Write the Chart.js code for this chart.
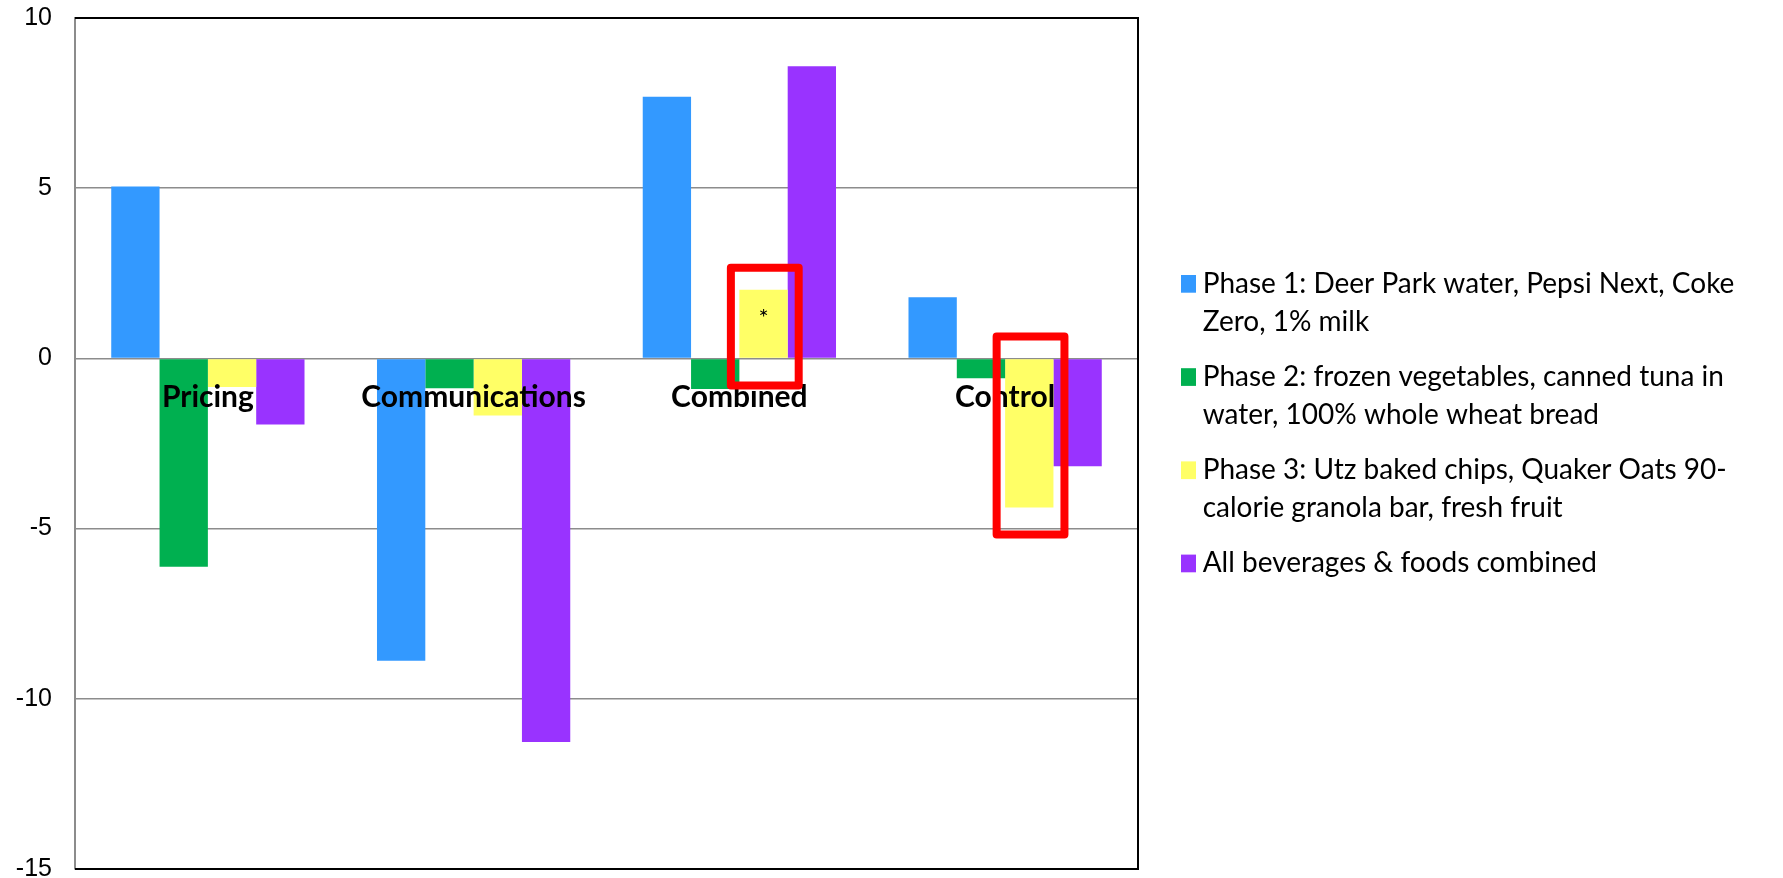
<!DOCTYPE html>
<html>
<head>
<meta charset="utf-8">
<script src="https://cdn.jsdelivr.net/npm/chart.js@4.4.1/dist/chart.umd.min.js"></script>
<style>
  html, body { margin: 0; padding: 0; background: #ffffff; }
  canvas { display: block; }
</style>
</head>
<body>
<canvas id="chart" width="1783" height="878"></canvas>
<script>
// Change in purchases by study arm and product group
const categories = ['Pricing', 'Communications', 'Combined', 'Control'];
const phase1 = [5.05, -8.88, 7.69, 1.80];
const phase2 = [-6.12, -0.88, -0.90, -0.58];
const phase3 = [-0.84, -1.68, 2.02, -4.38];
const allCombined = [-1.94, -11.27, 8.58, -3.17];

// Series names, already broken into the lines shown in the legend
const seriesNames = [
  ['Phase 1: Deer Park water, Pepsi Next, Coke', 'Zero, 1% milk'],
  ['Phase 2: frozen vegetables, canned tuna in', 'water, 100% whole wheat bread'],
  ['Phase 3: Utz baked chips, Quaker Oats 90-', 'calorie granola bar, fresh fruit'],
  ['All beverages & foods combined']
];
const seriesColors = ['#3399FF', '#00B050', '#FFFF66', '#9933FF'];
const yTicks = [10, 5, 0, -5, -10, -15];

// Bars that get a red outline; note is a small label drawn inside the bar
const highlights = [
  { series: 2, category: 'Combined', note: '*' },
  { series: 2, category: 'Control', note: '' }
];

const seriesValues = [phase1, phase2, phase3, allCombined];

// Black frame on top, right and bottom of the plot area
const framePlugin = {
  id: 'plotFrame',
  afterDatasetsDraw(chart) {
    const { ctx, chartArea: a } = chart;
    ctx.save();
    ctx.strokeStyle = '#000000';
    ctx.lineWidth = 2;
    ctx.beginPath();
    ctx.moveTo(a.left, a.top);
    ctx.lineTo(a.right, a.top);
    ctx.lineTo(a.right, a.bottom);
    ctx.lineTo(a.left, a.bottom);
    ctx.stroke();
    ctx.restore();
  }
};

// Red outlines and notes around selected bars
const highlightPlugin = {
  id: 'barHighlights',
  afterDraw(chart, args, opts) {
    const { ctx } = chart;
    const yScale = chart.scales.y;
    const zero = yScale.getPixelForValue(0);
    ctx.save();
    highlights.forEach(h => {
      const idx = chart.data.labels.indexOf(h.category);
      const bar = chart.getDatasetMeta(h.series).data[idx];
      const half = bar.width / 2;
      const top = Math.min(bar.y, zero);
      const bottom = Math.max(bar.y, zero);
      if (h.note) {
        ctx.fillStyle = '#000000';
        ctx.font = opts.noteFont;
        ctx.textAlign = 'center';
        ctx.textBaseline = 'alphabetic';
        ctx.fillText(h.note, bar.x, (top + bottom) / 2 + 2);
      }
      ctx.strokeStyle = '#FF0000';
      ctx.lineWidth = 8;
      ctx.lineJoin = 'round';
      ctx.strokeRect(bar.x - half - opts.padLeft, top - opts.padTop,
        bar.width + opts.padLeft + opts.padRight,
        bottom - top + opts.padTop + opts.padBottom);
    });
    ctx.restore();
  }
};

// Legend to the right of the plot, with wrapped names
const sideLegendPlugin = {
  id: 'sideLegend',
  afterDraw(chart, args, opts) {
    const { ctx, chartArea: a } = chart;
    ctx.save();
    ctx.font = opts.font;
    ctx.textAlign = 'left';
    ctx.textBaseline = 'alphabetic';
    let baseline = opts.firstBaseline;
    chart.data.datasets.forEach((ds, i) => {
      const lines = seriesNames[i];
      ctx.fillStyle = ds.backgroundColor;
      ctx.fillRect(a.right + opts.boxOffset, baseline - opts.boxHeight, opts.boxWidth, opts.boxHeight);
      ctx.fillStyle = '#000000';
      lines.forEach((line, k) => {
        ctx.fillText(line, a.right + opts.textOffset, baseline + k * opts.lineHeight);
      });
      baseline += lines.length * opts.lineHeight + opts.itemGap;
    });
    ctx.restore();
  }
};

new Chart(document.getElementById('chart'), {
  type: 'bar',
  data: {
    labels: categories,
    datasets: seriesValues.map((values, i) => ({
      label: seriesNames[i].join(' '),
      data: values,
      backgroundColor: seriesColors[i],
      borderWidth: 0,
      categoryPercentage: 4 / 5.5,
      barPercentage: 1
    }))
  },
  options: {
    responsive: false,
    animation: false,
    layout: { padding: { top: 18, right: 645, bottom: 9, left: 0 } },
    scales: {
      x: {
        position: { y: 0 },
        grid: { display: false, drawTicks: false },
        border: { display: false },
        ticks: {
          z: 1,
          autoSkip: false,
          maxRotation: 0,
          padding: 21,
          color: '#000000',
          font: { family: 'Lato', weight: 'bold', size: 30 }
        },
        afterFit(scale) {
          scale.paddingLeft = 0;
          scale.paddingRight = 0;
        }
      },
      y: {
        min: Math.min(...yTicks),
        max: Math.max(...yTicks),
        afterBuildTicks(scale) {
          scale.ticks = yTicks.map(v => ({ value: v }));
        },
        grid: { color: '#8c8c8c', lineWidth: 1.5, drawTicks: false },
        border: { color: '#8c8c8c', width: 2 },
        ticks: {
          padding: 23,
          color: '#000000',
          font: { family: '"Liberation Sans", Arial, sans-serif', size: 25 }
        },
        afterFit(scale) {
          scale.width = 75;
          scale.paddingTop = 0;
          scale.paddingBottom = 0;
        }
      }
    },
    plugins: {
      legend: { display: false },
      tooltip: { enabled: false },
      barHighlights: { noteFont: '24px Lato', padLeft: 8.5, padRight: 11, padTop: 22, padBottom: 27 },
      sideLegend: {
        font: '28px Lato',
        firstBaseline: 292.7,
        lineHeight: 38.3,
        itemGap: 16.6,
        boxOffset: 43,
        boxWidth: 15,
        boxHeight: 17.7,
        textOffset: 64.7
      }
    }
  },
  plugins: [framePlugin, highlightPlugin, sideLegendPlugin]
});
</script>
</body>
</html>
